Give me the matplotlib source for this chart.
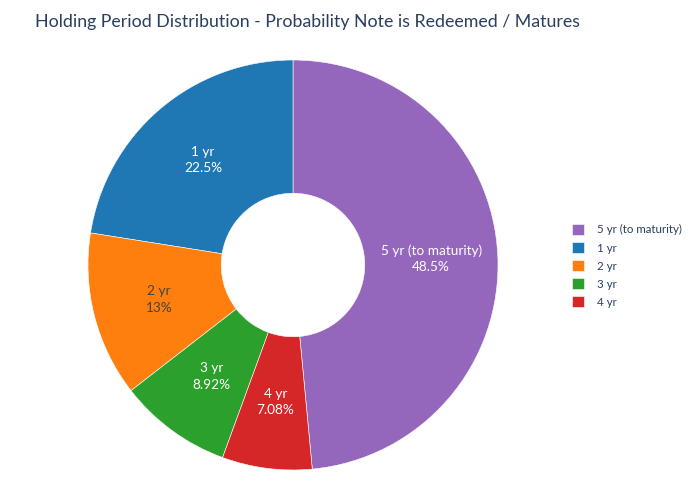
import numpy as np
import matplotlib.pyplot as plt

labels = ["5 yr (to maturity)", "1 yr", "2 yr", "3 yr", "4 yr"]
shares = [48.5, 22.5, 13.0, 8.92, 7.08]
pct_text = ["48.5%", "22.5%", "13%", "8.92%", "7.08%"]
colors = ["#9467bd", "#1f77b4", "#ff7f0e", "#2ca02c", "#d62728"]
text_colors = ["white", "white", "#444444", "white", "white"]

plt.rcParams["font.family"] = ["Lato", "DejaVu Sans"]

fig = plt.figure(figsize=(7, 5), dpi=100)
ax = fig.add_axes([(293 - 205) / 700, 30 / 500, 410 / 700, 410 / 500])

hole = 0.35
start = 90 - 360 * shares[0] / sum(shares)
wedges, _ = ax.pie(
    shares,
    colors=colors,
    startangle=start,
    counterclock=True,
    radius=1,
    wedgeprops=dict(width=1 - hole, edgecolor="white", linewidth=0.4),
)

r_text = (1 + hole) / 2
for w, lab, pct, tc in zip(wedges, labels, pct_text, text_colors):
    ang = np.deg2rad((w.theta1 + w.theta2) / 2)
    ax.text(
        r_text * np.cos(ang),
        r_text * np.sin(ang),
        f"{lab}\n{pct}",
        ha="center",
        va="center",
        color=tc,
        fontsize=9.8,
        linespacing=1.45,
    )

ax.set_xlim(-1, 1)
ax.set_ylim(-1, 1)
ax.set_aspect("equal")

fig.text(
    35 / 700,
    1 - 22 / 500,
    "Holding Period Distribution - Probability Note is Redeemed / Matures",
    fontsize=12.8,
    color="#2a3f5f",
    va="center",
    ha="left",
)

fig.legend(
    wedges,
    labels,
    loc="upper left",
    bbox_to_anchor=(562 / 700, 1 - 214 / 500),
    frameon=False,
    fontsize=8.3,
    handlelength=1.0,
    handleheight=1.0,
    handletextpad=1.1,
    labelspacing=0.6,
    labelcolor="#2a3f5f",
)

fig.savefig("out.png", dpi=100)
